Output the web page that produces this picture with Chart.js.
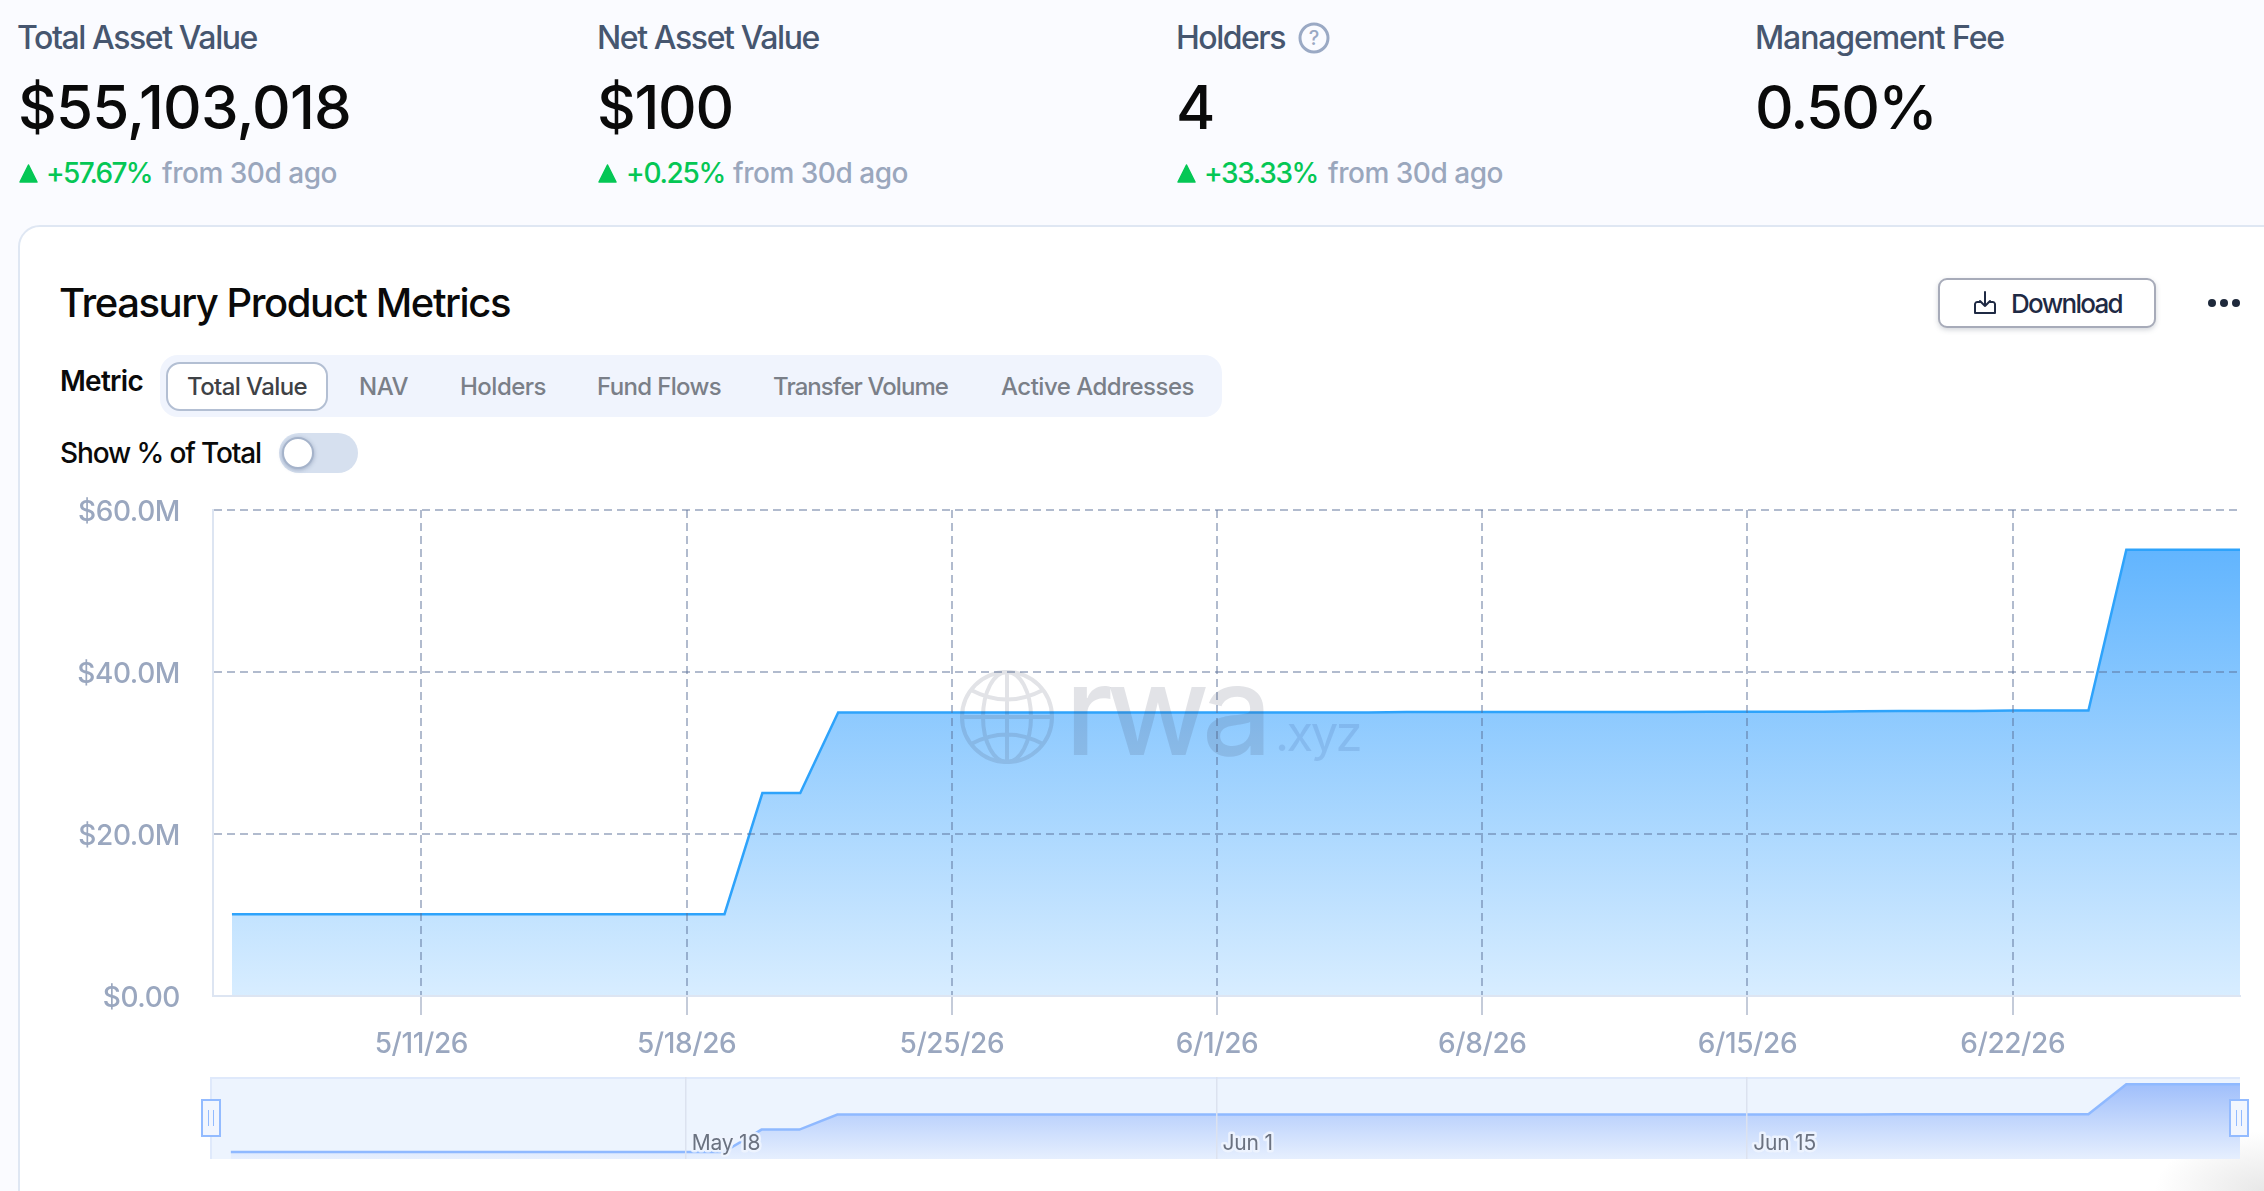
<!DOCTYPE html>
<html><head><meta charset="utf-8">
<script src="https://cdn.jsdelivr.net/npm/chart.js@4"></script>
<style>
html,body{margin:0;padding:0;width:2264px;height:1191px;overflow:hidden;background:#fafbff;font-family:Inter,sans-serif}
.t{position:absolute;white-space:nowrap;display:inline-block;transform:translateY(-50%);line-height:1.2}
.lab{font-size:32px;color:#46566f;font-weight:450}
.val{font-size:60px;color:#0a0a0a;font-weight:450}
.up{font-size:28px;color:#05c755;font-weight:500}
.from{font-size:28px;color:#9aa7bd;font-weight:450}
.tab{font-size:24px;color:#7a7f88;font-weight:500}
.box{position:absolute;box-sizing:border-box}
canvas{position:absolute;display:block}
</style></head><body>
<div class="box" style="left:18px;top:225px;width:2300px;height:1000px;background:#fff;border:2px solid #dfe7f3;border-radius:22px"></div>
<div class="box" style="right:0;bottom:0;width:110px;height:60px;background:radial-gradient(ellipse at 100% 100%,rgba(170,170,170,.28),rgba(255,255,255,0) 70%)"></div>

<span class="t lab" data-w="240" style="left:17px;top:38px">Total Asset Value</span>
<span class="t val" data-w="333" style="left:18px;top:107px">$55,103,018</span>
<svg class="box" style="left:19px;top:163px" width="20" height="20"><path d="M9.5 2 L18 19 H1 Z" fill="#05c755" stroke="#05c755" stroke-linejoin="round" stroke-width="1.5"/></svg>
<span class="t up" data-w="106" style="left:46px;top:174px">+57.67%</span>
<span class="t from" data-w="175" style="left:162px;top:174px">from 30d ago</span>

<span class="t lab" data-w="222" style="left:597px;top:38px">Net Asset Value</span>
<span class="t val" data-w="136" style="left:597px;top:107px">$100</span>
<svg class="box" style="left:598px;top:163px" width="20" height="20"><path d="M9.5 2 L18 19 H1 Z" fill="#05c755" stroke="#05c755" stroke-linejoin="round" stroke-width="1.5"/></svg>
<span class="t up" data-w="99" style="left:626px;top:174px">+0.25%</span>
<span class="t from" data-w="175" style="left:733px;top:174px">from 30d ago</span>

<span class="t lab" data-w="109" style="left:1176px;top:38px">Holders</span>
<svg class="box" style="left:1297px;top:21px" width="34" height="34"><circle cx="17" cy="17" r="14" fill="none" stroke="#9aa9c4" stroke-width="3"/><text x="17" y="24" text-anchor="middle" font-family="Inter" font-size="20" font-weight="500" fill="#9aa9c4">?</text></svg>
<span class="t val" style="left:1176px;top:107px" data-w="35">4</span>
<svg class="box" style="left:1177px;top:163px" width="20" height="20"><path d="M9.5 2 L18 19 H1 Z" fill="#05c755" stroke="#05c755" stroke-linejoin="round" stroke-width="1.5"/></svg>
<span class="t up" data-w="114" style="left:1204px;top:174px">+33.33%</span>
<span class="t from" data-w="175" style="left:1328px;top:174px">from 30d ago</span>

<span class="t lab" data-w="249" style="left:1755px;top:38px">Management Fee</span>
<span class="t val" data-w="181" style="left:1755px;top:107px">0.50%</span>

<span class="t" data-w="451" style="left:59px;top:303px;font-size:40px;font-weight:500;color:#0a0a0a">Treasury Product Metrics</span>
<div class="box" style="left:1938px;top:278px;width:218px;height:50px;border:2px solid #a7abb9;border-radius:9px;background:#fff;box-shadow:0 2px 5px rgba(80,90,110,.25)"></div>
<svg class="box" style="left:1972px;top:289px" width="26" height="28" fill="none" stroke="#1f2a44" stroke-width="2" stroke-linecap="round" stroke-linejoin="round"><path d="M13 3 V17 M8 12 L13 17 L18 12"/><path d="M8 13 H5 Q3.500 13 3 15 V24 H23 V15 Q22.500 13 21 13 H18"/></svg>
<span class="t" data-w="111" style="left:2011px;top:304px;font-size:26px;font-weight:450;color:#1f2a44">Download</span>
<svg class="box" style="left:2204px;top:295px" width="44" height="16" fill="#1e293b"><circle cx="8" cy="8" r="4"/><circle cx="20" cy="8" r="4"/><circle cx="32" cy="8" r="4"/></svg>

<span class="t" data-w="83" style="left:60px;top:382px;font-size:28px;font-weight:600;color:#0a0a0a">Metric</span>
<div class="box" style="left:160px;top:355px;width:1062px;height:62px;background:#f0f4fd;border-radius:18px"></div>
<div class="box" style="left:166px;top:362px;width:162px;height:49px;background:#fff;border:2px solid #b3bfd3;border-radius:14px"></div>
<span class="t tab" data-w="120" style="left:187px;top:387px;color:#3f4246">Total Value</span>
<span class="t tab" data-w="49" style="left:359px;top:387px">NAV</span>
<span class="t tab" data-w="86" style="left:460px;top:387px">Holders</span>
<span class="t tab" data-w="124" style="left:597px;top:387px">Fund Flows</span>
<span class="t tab" data-w="175" style="left:773px;top:387px">Transfer Volume</span>
<span class="t tab" data-w="193" style="left:1001px;top:387px">Active Addresses</span>

<span class="t" data-w="201" style="left:60px;top:454px;font-size:28px;font-weight:450;color:#0a0a0a">Show % of Total</span>
<div class="box" style="left:279px;top:433px;width:79px;height:40px;background:#d6e0ef;border-radius:20px"></div>
<div class="box" style="left:282px;top:437px;width:32px;height:32px;background:#fff;border:2px solid #a5b3ca;border-radius:50%;box-shadow:0 1px 4px rgba(70,90,130,.4)"></div>

<canvas id="main" width="2264" height="580" style="left:0;top:480px"></canvas>

<div class="box" style="left:210px;top:1077px;width:2030px;height:82px;background:#edf4fe;border-top:2px solid #dfe9fb;border-left:2px solid #dfe9fb"></div>
<canvas id="nav" width="2264" height="89" style="left:0;top:1070px"></canvas>
<div class="box" style="left:201px;top:1099px;width:20px;height:38px;background:#f2f6fe;border:2px solid #93bbff"></div>
<svg class="box" style="left:201px;top:1099px" width="20" height="38" stroke="#93bbff"><path d="M7.500 11 V27 M12.500 11 V27"/></svg>
<div class="box" style="left:2229px;top:1099px;width:20px;height:38px;background:#f2f6fe;border:2px solid #93bbff"></div>
<svg class="box" style="left:2229px;top:1099px" width="20" height="38" stroke="#93bbff"><path d="M7.500 11 V27 M12.500 11 V27"/></svg>

<svg class="box" style="left:955px;top:665px;pointer-events:none;opacity:.15" width="104" height="104" fill="none" stroke="rgb(60,70,95)" stroke-width="4">
<circle cx="52" cy="52" r="45"/><ellipse cx="52" cy="52" rx="24" ry="45"/><path d="M52 7 V97 M7 52 H97 M16 25 Q52 44 88 25 M16 79 Q52 60 88 79"/></svg>
<span class="t" data-w="200" style="left:1065px;top:710px;font-size:124px;font-weight:500;color:rgba(60,70,95,.15)">rwa</span>
<span class="t" data-w="85" style="left:1275px;top:734px;font-size:49px;color:rgba(60,95,160,.17)">.xyz</span>

<script>
// ---- chart data ----
const dayLabels = ['5/6/26','5/7/26','5/8/26','5/9/26','5/10/26','5/11/26','5/12/26','5/13/26','5/14/26','5/15/26','5/16/26','5/17/26','5/18/26','5/19/26','5/20/26','5/21/26','5/22/26','5/23/26','5/24/26','5/25/26','5/26/26','5/27/26','5/28/26','5/29/26','5/30/26','5/31/26','6/1/26','6/2/26','6/3/26','6/4/26','6/5/26','6/6/26','6/7/26','6/8/26','6/9/26','6/10/26','6/11/26','6/12/26','6/13/26','6/14/26','6/15/26','6/16/26','6/17/26','6/18/26','6/19/26','6/20/26','6/21/26','6/22/26','6/23/26','6/24/26','6/25/26','6/26/26','6/27/26','6/28/26'];
const totalValueM = [10.1,10.1,10.1,10.1,10.1,10.1,10.1,10.1,10.1,10.1,10.1,10.1,10.1,10.1,25.05,25.05,35.0,35.0,35.0,35.0,35.0,35.0,35.0,35.0,35.0,35.0,35.0,35.0,35.0,35.0,35.0,35.05,35.05,35.05,35.05,35.05,35.05,35.05,35.05,35.1,35.1,35.1,35.1,35.15,35.2,35.2,35.2,35.25,35.25,35.25,55.1,55.1,55.1,55.1];
const xTickDays = ['5/11/26','5/18/26','5/25/26','6/1/26','6/8/26','6/15/26','6/22/26'];
const yTickValues = [0,20,40,60];
const yTickLabels = ['$0.00','$20.0M','$40.0M','$60.0M'];
const navTickDays = ['5/18/26','6/1/26','6/15/26'];
const navTickLabels = ['May 18','Jun 1','Jun 15'];

const points = dayLabels.map((d,i)=>({x:i,y:totalValueM[i]}));
const gridCol='rgba(90,110,150,.47)', tickCol='#b0bacd', axisCol='#dde5f2', labelCol='#9aa7bf';

// fit text widths
document.querySelectorAll('[data-w]').forEach(el=>{
  const w=+el.dataset.w, n=el.textContent.length;
  el.style.letterSpacing=((w-el.getBoundingClientRect().width)/n).toFixed(3)+'px';
});

function vGrad(chart,top,c1,c2){
  const a=chart.chartArea; if(!a) return c1;
  const y=chart.scales.y;
  const g=chart.ctx.createLinearGradient(0,y.getPixelForValue(top),0,a.bottom);
  g.addColorStop(0,c1); g.addColorStop(1,c2); return g;
}
const peak=Math.max(...totalValueM);

new Chart(document.getElementById('main'),{
  type:'line',
  data:{datasets:[{data:points,borderColor:'#2ea3fb',borderWidth:2.5,pointRadius:0,tension:0,fill:'origin',
    backgroundColor:c=>vGrad(c.chart,peak,'#62b5fe','#d8edff')}]},
  plugins:[{id:'ls',beforeDraw(c){c.ctx.letterSpacing='-0.4px';}}],
  options:{responsive:false,animation:false,
    layout:{padding:{left:33,top:30,right:24,bottom:0}},
    plugins:{legend:{display:false},tooltip:{enabled:false}},
    scales:{
      x:{type:'linear',min:-0.5,max:53,
        afterBuildTicks(s){s.ticks=xTickDays.map(d=>({value:dayLabels.indexOf(d)}));},
        afterFit(s){s.height=64;},
        grid:{z:1,color:gridCol,lineWidth:2,tickLength:19,tickColor:tickCol,tickWidth:1.5,tickBorderDash:[]},
        border:{z:1,color:axisCol,width:2,dash:[8,5]},
        ticks:{autoSkip:false,maxRotation:0,padding:13,color:labelCol,font:{family:'Inter',size:28,weight:'500'},callback:v=>dayLabels[v]}},
      y:{min:0,max:60,
        afterBuildTicks(s){s.ticks=yTickValues.map(v=>({value:v}));},
        afterFit(s){s.width=180;},
        grid:{z:1,color:c=>c.tick.value===0?'rgba(0,0,0,0)':gridCol,lineWidth:2,tickLength:33,tickColor:'rgba(0,0,0,0)'},
        border:{z:1,color:axisCol,width:2,dash:[8,5]},
        ticks:{padding:0,labelOffset:3,color:labelCol,font:{family:'Inter',size:28,weight:'500'},callback:v=>yTickLabels[yTickValues.indexOf(v)]}}
    }}
});

new Chart(document.getElementById('nav'),{
  type:'line',
  data:{datasets:[{data:points,borderColor:'#8fb9ff',borderWidth:2.5,pointRadius:0,tension:0,fill:'start',
    backgroundColor:c=>vGrad(c.chart,peak,'#a0bffb','#e6effe')}]},
  plugins:[{id:'navLabels',afterDraw(c){
    const ctx=c.ctx,s=c.scales.x; ctx.save();
    ctx.font='400 21px Inter'; ctx.letterSpacing='-0.2px'; ctx.textBaseline='middle'; ctx.textAlign='left'; ctx.lineJoin='round';
    navTickDays.forEach((d,i)=>{
      const x=s.getPixelForValue(dayLabels.indexOf(d))+6;
      ctx.strokeStyle='rgba(238,244,254,.9)'; ctx.lineWidth=5; ctx.strokeText(navTickLabels[i],x,74);
      ctx.fillStyle='#6b7280'; ctx.fillText(navTickLabels[i],x,74);
    }); ctx.restore();
  }}],
  options:{responsive:false,animation:false,
    layout:{padding:{left:210,top:7,right:24,bottom:0}},
    plugins:{legend:{display:false},tooltip:{enabled:false}},
    scales:{
      x:{type:'linear',min:-0.55,max:53,
        afterBuildTicks(s){s.ticks=navTickDays.map(d=>({value:dayLabels.indexOf(d)}));},
        afterFit(s){s.height=0;},
        grid:{z:1,color:'#dce2ef',lineWidth:1.5,drawTicks:false},
        border:{display:false},
        ticks:{display:false}},
      y:{display:false,min:5.5,max:60}
    }}
});
</script>
</body></html>
